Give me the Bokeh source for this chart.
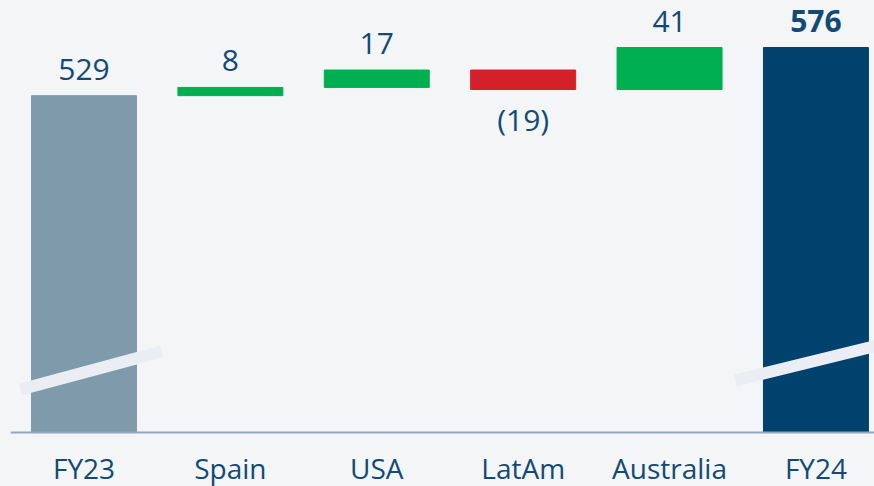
from bokeh.plotting import figure
from bokeh.models import Range1d, ColumnDataSource, Span
from bokeh.core.properties import value
from bokeh.embed import file_html
from bokeh.resources import INLINE

# ---- data ----
categories = ["FY23", "Spain", "USA", "LatAm", "Australia", "FY24"]
amounts = [529, 8, 17, -19, 41, 576]
kinds = ["total", "delta", "delta", "delta", "delta", "total"]
value_labels = ["529", "8", "17", "(19)", "41", "576"]
axis_floor = 200  # broken axis starts here

# ---- style ----
BG = "#f4f5f7"
TEXT = "#124a75"
C_START = "#7f9bab"
C_END = "#00426e"
C_POS = "#00b050"
C_NEG = "#d52029"
BREAK = "#eaeef4"
AXIS = "#94a8be"
FONT = "Open Sans"

xs, bottoms, tops, colors = [], [], [], []
lab_y, lab_base, lab_off, lab_style = [], [], [], []
running = 0
for i, (a, k) in enumerate(zip(amounts, kinds)):
    xs.append(i)
    if k == "total":
        b, t = axis_floor, a
        running = a
        colors.append(C_START if i == 0 else C_END)
        lab_style.append("bold" if i == len(amounts) - 1 else "normal")
    else:
        b, t = running, running + a
        running += a
        colors.append(C_POS if a >= 0 else C_NEG)
        lab_style.append("normal")
    bottoms.append(min(b, t))
    tops.append(max(b, t))
    if k == "delta" and a < 0:
        lab_y.append(min(b, t)); lab_base.append("top"); lab_off.append(10)
    else:
        lab_y.append(max(b, t)); lab_base.append("bottom"); lab_off.append(-16)

src = ColumnDataSource(dict(x=xs, bottom=bottoms, top=tops, color=colors))
lsrc = ColumnDataSource(dict(x=xs, y=lab_y, text=value_labels, base=lab_base,
                             off=lab_off, style=lab_style))
csrc = ColumnDataSource(dict(x=xs, y=[axis_floor] * len(xs), text=categories))

p = figure(width=874, height=486, output_backend="svg", toolbar_location=None,
           x_range=Range1d(-0.502, 5.400), y_range=Range1d(147.3, 621.9),
           x_axis_location=None, y_axis_location=None,
           min_border_left=10, min_border_right=0,
           min_border_top=0, min_border_bottom=0)
p.background_fill_color = BG
p.border_fill_color = BG
p.outline_line_color = None
p.grid.visible = False

p.vbar(x="x", bottom="bottom", top="top", width=0.717, color="color", source=src)

# axis-break marks on the two total bars
first, last = 0, len(categories) - 1
p.segment(x0=[first - 0.434, last - 0.55], y0=[axis_floor + 42, axis_floor + 51],
          x1=[first + 0.529, last + 0.45], y1=[axis_floor + 79, axis_floor + 86],
          line_color=BREAK, line_width=12, line_cap="butt")

# category axis line
p.add_layout(Span(location=axis_floor, dimension="width", line_color=AXIS, line_width=2))

# value labels
p.text(x="x", y="y", text="text", source=lsrc, text_align="center",
       text_baseline="base", y_offset="off", text_font=value(FONT),
       text_font_size="30px", text_color=TEXT, text_font_style="style")

# category labels
p.text(x="x", y="y", text="text", source=csrc, text_align="center",
       text_baseline="top", y_offset=16, text_font=value(FONT),
       text_font_size="28px", text_color=TEXT)

html = file_html(p, INLINE)
html = html.replace(
    "</head>",
    "<style>html,body{margin:0;padding:0;overflow:hidden;background:%s}</style></head>" % BG, 1)
open("out.html", "w").write(html)
